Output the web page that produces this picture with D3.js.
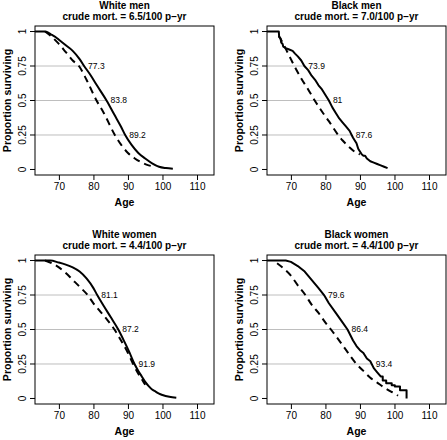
<!DOCTYPE html>
<html>
<head>
<meta charset="utf-8">
<script src="https://cdn.jsdelivr.net/npm/d3@7"></script>
<style>
  body { margin: 0; background: #fff; }
  svg { display: block; }
  text { font-family: "Liberation Sans", Arial, Helvetica, sans-serif; fill: #000; }
</style>
</head>
<body>
<svg id="chart" width="447" height="440"></svg>
<script>
// ---- data ----
const groups = ["White men", "Black men", "White women", "Black women"];
const crudeMort = ["6.5", "7.0", "4.4", "4.4"];
const quantileLevels = [0.75, 0.5, 0.25];
const quantileAges = [
  [77.3, 83.8, 89.2],
  [73.9, 81, 87.6],
  [81.1, 87.2, 91.9],
  [79.6, 86.4, 93.4]
];
const xTicks = [70, 80, 90, 100, 110];
const yTicks = [0, 0.25, 0.5, 0.75, 1];
const yTickLabels = ["0", "0.25", "0.5", "0.75", "1"];

// observed (Kaplan-Meier) survival, [age, proportion]
const whiteMenObserved = [[63.1,1],[66,1],[67,0.99],[68,0.975],[69,0.96],[70,0.94],[72,0.9],[74,0.86],[76,0.8],[77.3,0.75],[79,0.69],[81,0.61],[83.8,0.5],[86,0.4],[88,0.31],[89.2,0.25],[91,0.18],[93,0.12],[95,0.08],[97,0.045],[99,0.02],[101,0.01],[103,0.005]];
const blackMenObserved = [[63.1,1],[66.5,1],[66.6,0.96],[67,0.95],[67.2,0.92],[67.6,0.91],[67.8,0.89],[68.5,0.88],[69.5,0.87],[70.5,0.86],[71.2,0.84],[72,0.82],[73,0.79],[73.9,0.75],[75,0.72],[76,0.68],[77,0.65],[78,0.61],[79,0.58],[80,0.54],[81,0.5],[82,0.45],[83,0.41],[84,0.37],[85,0.34],[86,0.31],[87,0.28],[87.6,0.25],[88,0.23],[89,0.19],[89.5,0.15],[90,0.13],[90.5,0.11],[91,0.1],[91.5,0.1],[92,0.08],[93,0.06],[94,0.05],[95,0.04],[96,0.03],[97,0.02],[98,0.01]];
const whiteWomenObserved = [[63.1,1],[67.5,1],[70,0.985],[72,0.97],[74,0.95],[76,0.92],[78,0.87],[80,0.8],[81.1,0.75],[83,0.67],[85,0.59],[87.2,0.5],[89,0.41],[90.5,0.33],[91.9,0.25],[93,0.2],[94,0.16],[95,0.12],[96,0.09],[97,0.065],[98,0.05],[99,0.035],[100,0.025],[102,0.012],[104,0.005]];
const blackWomenObserved = [[63.1,1],[68.5,1],[70,0.99],[72,0.96],[74,0.92],[76,0.86],[78,0.8],[79.6,0.75],[81,0.69],[83,0.62],[85,0.55],[86.4,0.5],[88,0.42],[89,0.38],[90,0.35],[91,0.33],[92,0.29],[93,0.27],[93.4,0.25],[94,0.22],[95,0.19],[96,0.16],[96.6,0.16],[96.6,0.13],[97.6,0.13],[97.6,0.11],[99.2,0.11],[99.2,0.096],[100.1,0.096],[100.1,0.086],[101.6,0.086],[101.6,0.06],[103.5,0.06],[103.5,0]];

// expected survival, [age, proportion]
const whiteMenExpected = [[66,1],[68,0.96],[70,0.91],[72,0.85],[74,0.79],[75.8,0.75],[78,0.65],[80.9,0.5],[83,0.41],[86.2,0.25],[88,0.18],[90,0.12],[92,0.08],[94,0.05],[96,0.03],[98,0.02]];
const blackMenExpected = [[66.5,0.97],[68,0.9],[69,0.85],[70,0.8],[71,0.75],[73,0.66],[75,0.58],[76.9,0.5],[79,0.42],[81,0.35],[83.7,0.25],[85,0.21],[87,0.16],[89,0.12],[90,0.11]];
const whiteWomenExpected = [[66,1],[68,0.98],[70,0.95],[72,0.91],[74,0.86],[76,0.81],[78.3,0.75],[80,0.69],[82,0.63],[84,0.57],[86.1,0.5],[88,0.42],[90,0.33],[91.5,0.25],[93,0.18],[94,0.14],[95,0.1]];
const blackWomenExpected = [[66,0.98],[68,0.94],[70,0.89],[72,0.82],[74.2,0.75],[76,0.68],[78,0.62],[80,0.55],[81.6,0.5],[84,0.42],[86,0.35],[89,0.25],[91,0.2],[93,0.15],[95,0.115],[97,0.08],[99,0.05],[100.5,0.03],[101,0.02]];

const observed = [whiteMenObserved, blackMenObserved, whiteWomenObserved, blackWomenObserved];
const expected = [whiteMenExpected, blackMenExpected, whiteWomenExpected, blackWomenExpected];
const smoothObserved = [true, false, true, false];

// ---- layout ----
const panels = [
  {L: 35, R: 214, T: 26, B: 175},
  {L: 267, R: 446, T: 26, B: 175},
  {L: 35, R: 214, T: 255, B: 404},
  {L: 267, R: 446, T: 255, B: 404}
];

const svg = d3.select("#chart");

panels.forEach((p, i) => {
  const x = d3.scaleLinear().domain([63.08, 114.92]).range([p.L, p.R]);
  const y = d3.scaleLinear().domain([-0.04, 1.04]).range([p.B, p.T]);
  const g = svg.append("g");

  // grey reference lines at quantiles
  quantileLevels.forEach((lev, k) => {
    const a = quantileAges[i][k];
    g.append("line")
      .attr("x1", p.L).attr("x2", x(a))
      .attr("y1", y(lev)).attr("y2", y(lev))
      .attr("stroke", "#bebebe").attr("stroke-width", 1);
    g.append("text")
      .attr("x", x(a) + 4).attr("y", y(lev))
      .attr("dy", "0.35em")
      .attr("font-size", 8.5)
      .text(String(a));
  });

  // curves
  const lineObs = d3.line().x(d => x(d[0])).y(d => y(d[1]))
    .curve(smoothObserved[i] ? d3.curveMonotoneX : d3.curveLinear);
  const lineExp = d3.line().x(d => x(d[0])).y(d => y(d[1])).curve(d3.curveMonotoneX);

  g.append("path").datum(expected[i])
    .attr("d", lineExp).attr("fill", "none")
    .attr("stroke", "#000").attr("stroke-width", 2)
    .attr("stroke-dasharray", "7,5");
  g.append("path").datum(observed[i])
    .attr("d", lineObs).attr("fill", "none")
    .attr("stroke", "#000").attr("stroke-width", 2)
    .attr("stroke-linejoin", "round");

  // box
  g.append("rect")
    .attr("x", p.L).attr("y", p.T)
    .attr("width", p.R - p.L).attr("height", p.B - p.T)
    .attr("fill", "none").attr("stroke", "#000").attr("stroke-width", 1);

  // x axis
  const xAxis = d3.axisBottom(x).tickValues(xTicks).tickSize(5).tickPadding(3).tickFormat(d3.format("d"));
  const xa = g.append("g").attr("transform", `translate(0,${p.B})`).call(xAxis);
  xa.select(".domain").remove();
  xa.selectAll("text").attr("font-size", 10).attr("font-family", null);

  // y axis
  const yAxis = d3.axisLeft(y).tickValues(yTicks).tickSize(5)
    .tickFormat((d, j) => yTickLabels[j]);
  const ya = g.append("g").attr("transform", `translate(${p.L},0)`).call(yAxis);
  ya.select(".domain").remove();
  ya.selectAll("text")
    .attr("font-size", 10).attr("font-family", null)
    .attr("x", null).attr("dy", null)
    .attr("text-anchor", "middle")
    .attr("transform", d => `translate(-9.5,${y(d)}) rotate(-90)`)
    .attr("y", 0);
  ya.selectAll(".tick").attr("transform", null);
  ya.selectAll(".tick line").attr("transform", d => `translate(0,${y(d)})`);

  // titles
  const cx = (p.L + p.R) / 2;
  g.append("text").attr("x", cx).attr("y", p.T - 17)
    .attr("text-anchor", "middle").attr("font-size", 10).attr("font-weight", "bold")
    .text(groups[i]);
  g.append("text").attr("x", cx).attr("y", p.T - 6)
    .attr("text-anchor", "middle").attr("font-size", 10).attr("font-weight", "bold")
    .text(`crude mort. = ${crudeMort[i]}/100 p\u2212yr`);

  // axis labels
  g.append("text").attr("x", cx).attr("y", p.B + 31)
    .attr("text-anchor", "middle").attr("font-size", 10.5).attr("font-weight", "bold")
    .text("Age");
  g.append("text")
    .attr("transform", `translate(${p.L - 24},${(p.T + p.B) / 2}) rotate(-90)`)
    .attr("text-anchor", "middle").attr("font-size", 10.5).attr("font-weight", "bold")
    .text("Proportion surviving");
});
</script>
</body>
</html>
